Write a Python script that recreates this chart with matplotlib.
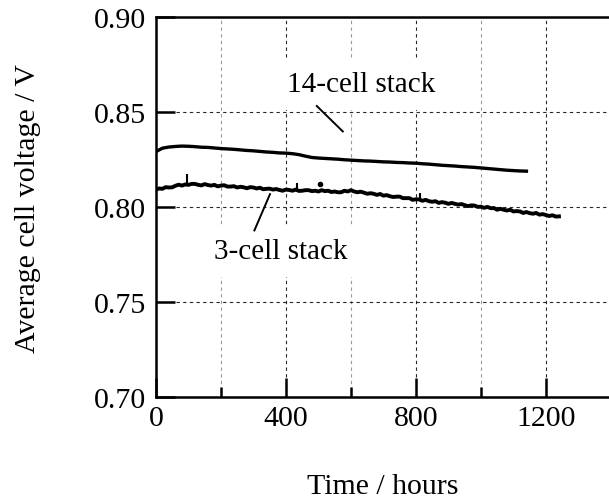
#!/usr/bin/env python3
"""Average cell voltage of the 3-cell and 14-cell stacks over time."""
import numpy as np
import matplotlib
matplotlib.use("Agg")
import matplotlib.pyplot as plt

# ---- data ----
# 3-cell stack, sampled every 10 h from 0 to 1240 h
hours_3 = np.arange(0, 1250, 10)
volt_3 = [
    0.8092, 0.8098, 0.8096, 0.8105, 0.8103, 0.8104, 0.8112, 0.8118, 0.8113, 0.8119,
    0.8117, 0.8122, 0.8122, 0.8117, 0.8114, 0.8121, 0.8116, 0.8113, 0.8117, 0.8109,
    0.8113, 0.8115, 0.8108, 0.8108, 0.8110, 0.8103, 0.8107, 0.8104, 0.8099, 0.8105,
    0.8103, 0.8098, 0.8102, 0.8094, 0.8096, 0.8097, 0.8092, 0.8095, 0.8090, 0.8086,
    0.8092, 0.8090, 0.8086, 0.8092, 0.8085, 0.8086, 0.8089, 0.8089, 0.8084, 0.8086,
    0.8082, 0.8089, 0.8084, 0.8086, 0.8079, 0.8082, 0.8078, 0.8078, 0.8086, 0.8082,
    0.8089, 0.8082, 0.8078, 0.8081, 0.8076, 0.8070, 0.8073, 0.8070, 0.8064, 0.8069,
    0.8060, 0.8063, 0.8057, 0.8053, 0.8055, 0.8055, 0.8047, 0.8047, 0.8047, 0.8038,
    0.8041, 0.8040, 0.8033, 0.8038, 0.8031, 0.8028, 0.8031, 0.8022, 0.8026, 0.8023,
    0.8017, 0.8022, 0.8017, 0.8013, 0.8016, 0.8010, 0.8005, 0.8009, 0.8008, 0.8001,
    0.8002, 0.7996, 0.8001, 0.7994, 0.7995, 0.7986, 0.7991, 0.7986, 0.7982, 0.7986,
    0.7977, 0.7979, 0.7977, 0.7969, 0.7974, 0.7968, 0.7965, 0.7969, 0.7960, 0.7963,
    0.7958, 0.7953, 0.7957, 0.7950, 0.7951,
]
# short upward spikes in the 3-cell record
spike_hours = [95, 433, 814]
spike_low = [0.8118, 0.8088, 0.8038]
spike_high = [0.8172, 0.8128, 0.8076]
# isolated outlier point
dot_hours = [505]
dot_volt = [0.8121]

# 14-cell stack, sampled every 20 h from 0 to 1140 h
hours_14 = np.arange(0, 1160, 20)
volt_14 = [
    0.8292, 0.8310, 0.8316, 0.8319, 0.8321, 0.8320, 0.8318, 0.8315, 0.8314, 0.8311,
    0.8308, 0.8306, 0.8304, 0.8301, 0.8298, 0.8296, 0.8293, 0.8290, 0.8288, 0.8285,
    0.8284, 0.8281, 0.8276, 0.8268, 0.8261, 0.8258, 0.8256, 0.8254, 0.8252, 0.8249,
    0.8247, 0.8245, 0.8243, 0.8242, 0.8240, 0.8238, 0.8237, 0.8235, 0.8234, 0.8232,
    0.8231, 0.8228, 0.8226, 0.8223, 0.8220, 0.8218, 0.8216, 0.8213, 0.8211, 0.8209,
    0.8206, 0.8203, 0.8200, 0.8197, 0.8194, 0.8192, 0.8190, 0.8189,
]

x_major = [0, 400, 800, 1200]
x_minor = [200, 600, 1000]
y_ticks = [0.70, 0.75, 0.80, 0.85, 0.90]
y_labels = ["0.70", "0.75", "0.80", "0.85", "0.90"]

plt.rcParams["font.family"] = ["Liberation Serif", "DejaVu Serif"]

fig = plt.figure(figsize=(6.09, 5.02), dpi=100)
ax = fig.add_axes([0.256, 0.207, 0.744, 0.757])

# grid
for x in x_major[1:]:
    ax.axvline(x, color="0.15", lw=0.8, ls=(0, (3, 3)), zorder=1)
for x in x_minor:
    ax.axvline(x, color="0.6", lw=0.8, ls=(0, (3, 3)), zorder=1)
for y in y_ticks[1:-1]:
    ax.axhline(y, color="0.15", lw=0.8, ls=(0, (3, 3)), zorder=1)

ax.plot(hours_14, volt_14, color="black", lw=2.4, zorder=3)
ax.plot(hours_3, volt_3, color="black", lw=2.8, zorder=3)
ax.vlines(spike_hours, spike_low, spike_high, color="black", lw=1.5, zorder=3)
ax.plot(dot_hours, dot_volt, "o", color="black", ms=3, zorder=3)

box = dict(facecolor="white", edgecolor="none", pad=9)
ax.text(631, 0.8647, "14-cell stack", fontsize=21, ha="center", va="center",
        bbox=box, zorder=4)
ax.plot([495, 575], [0.8532, 0.8398], color="black", lw=1.4, zorder=4)
ax.text(385, 0.7768, "3-cell stack", fontsize=21, ha="center", va="center",
        bbox=box, zorder=4)
ax.plot([351, 303], [0.8068, 0.7877], color="black", lw=1.4, zorder=4)

ax.set_xlim(0, 1394)
ax.set_ylim(0.70, 0.90)
ax.set_xticks(x_major)
ax.set_xticks(x_minor, minor=True)
ax.set_yticks(y_ticks)
ax.set_yticklabels(y_labels)
ax.tick_params(axis="both", which="major", direction="in", length=13.5, width=1.8,
               labelsize=21.5, pad=6)
ax.tick_params(axis="x", which="minor", direction="in", length=7, width=1.8)
ax.tick_params(axis="y", which="major", pad=7)

for side in ("left", "bottom", "top"):
    ax.spines[side].set_linewidth(1.8)
ax.spines["right"].set_visible(False)

ax.set_xlabel("Time / hours", fontsize=21.5, labelpad=30)
ax.set_ylabel("Average cell voltage / V", fontsize=21.5, labelpad=38)

fig.savefig("out.png", dpi=100)
